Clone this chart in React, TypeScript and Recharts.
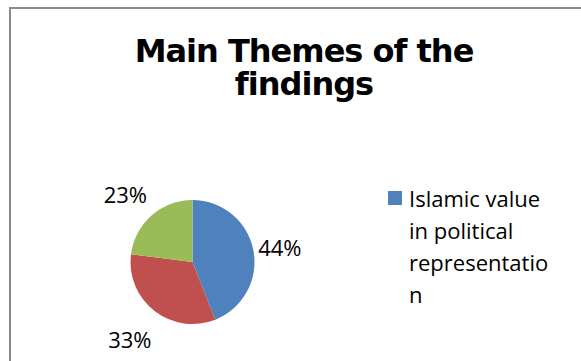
import { Cell, Legend, Pie, PieChart } from "recharts";

const themes = [
  "Islamic value in political representation",
  "Theme 2",
  "Theme 3",
];
const shares = [44, 33, 23];
const colors = ["#4F81BD", "#C0504D", "#9BBB59"];

const data = themes.map((name, i) => ({ name, value: shares[i] }));

const RAD = Math.PI / 180;

function renderLabel(props: any) {
  const { cx, cy, midAngle, outerRadius, percent } = props;
  const r = outerRadius + 32;
  const x = cx + r * Math.cos(-midAngle * RAD) - 5;
  const y = cy + r * Math.sin(-midAngle * RAD) + 3;
  return (
    <text
      x={x}
      y={y}
      textAnchor="middle"
      dominantBaseline="central"
      fill="#000"
      style={{ fontFamily: "'Open Sans', sans-serif", fontSize: 22 }}
    >
      {`${Math.round(percent * 100)}%`}
    </text>
  );
}

// only the first entry fits in the original legend box
function LegendBox({ payload }: any) {
  return (
    <div style={{ fontFamily: "'Open Sans', sans-serif", fontSize: 22, lineHeight: "32px", color: "#000" }}>
      {(payload || []).slice(0, 1).map((entry: any) => (
        <div key={entry.value} style={{ display: "flex", alignItems: "flex-start" }}>
          <span
            style={{
              width: 14,
              height: 14,
              marginTop: 9,
              marginRight: 7,
              background: entry.color,
              flex: "none",
            }}
          />
          <span style={{ width: 146, overflowWrap: "anywhere" }}>{entry.value}</span>
        </div>
      ))}
    </div>
  );
}

export default function App() {
  return (
    <div
      style={{
        position: "fixed",
        left: 0,
        top: 0,
        width: 581,
        height: 361,
        overflow: "hidden",
        background: "#fff",
      }}
    >
      <div
        style={{
          position: "absolute",
          left: 9,
          top: 7,
          width: 620,
          height: 400,
          border: "2px solid #8a8a8a",
          boxSizing: "border-box",
        }}
      />
      <div
        style={{
          position: "absolute",
          left: 114,
          top: 35,
          width: 380,
          textAlign: "center",
          fontFamily: "'DejaVu Sans', sans-serif",
          fontWeight: "bold",
          fontSize: 32,
          lineHeight: "33px",
          letterSpacing: -1,
          color: "#000",
        }}
      >
        Main Themes of the findings
      </div>
      <div style={{ position: "absolute", left: 0, top: 0 }}>
        <PieChart width={581} height={361} margin={{ top: 0, right: 0, bottom: 0, left: 0 }}>
          <Pie
            data={data}
            dataKey="value"
            nameKey="name"
            cx={192.5}
            cy={262}
            outerRadius={62}
            startAngle={90}
            endAngle={-270}
            stroke="none"
            label={renderLabel}
            labelLine={false}
            isAnimationActive={false}
          >
            {data.map((d, i) => (
              <Cell key={d.name} fill={colors[i]} />
            ))}
          </Pie>
          <Legend
            content={<LegendBox />}
            wrapperStyle={{
              position: "absolute",
              left: 388,
              top: 182,
              width: 190,
            }}
          />
        </PieChart>
      </div>
    </div>
  );
}
